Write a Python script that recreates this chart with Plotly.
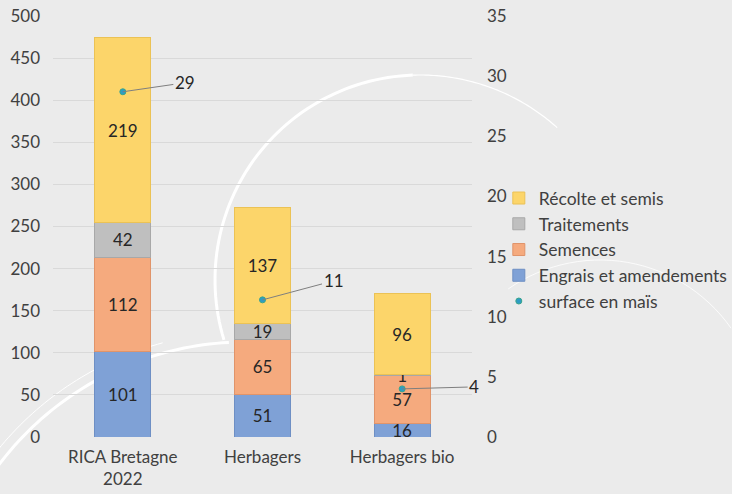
import math
import plotly.graph_objects as go

# Données
categories = ["RICA Bretagne<br>2022", "Herbagers", "Herbagers bio"]
engrais = [101, 51, 16]
semences = [112, 65, 57]
traitements = [42, 19, 1]
recolte = [219, 137, 96]
surface_mais = [28.7, 11.4, 4.0]

FONT = "Lato"
TXT = "#404040"

# zone de tracé en pixels (pour les décors)
L, R, T, B = 53, 472, 16, 437


def to_paper(px, py):
    return (px - L) / (R - L), (B - py) / (B - T)


def arc_path(cx, cy, r, a0, a1, n=60):
    pts = []
    for i in range(n + 1):
        a = math.radians(a0 + (a1 - a0) * i / n)
        pts.append(to_paper(cx + r * math.cos(a), cy - r * math.sin(a)))
    return "M" + " L".join(f"{x:.4f},{y:.4f}" for x, y in pts)


fig = go.Figure()

series = [
    ("Engrais et amendements", engrais, "#7FA1D6", "#6E8FC4", 4),
    ("Semences", semences, "#F5AA7E", "#E0946A", 3),
    ("Traitements", traitements, "#BFBFBF", "#A8A8A8", 2),
    ("Récolte et semis", recolte, "#FCD56A", "#EBC255", 1),
]
for name, vals, col, edge, rank in series:
    fig.add_trace(go.Bar(
        x=categories, y=vals, name=name,
        marker=dict(color=col, line=dict(color=edge, width=1)),
        text=[str(v) for v in vals], textposition="inside", textangle=0,
        insidetextanchor="middle", constraintext="none",
        textfont=dict(family=FONT, size=17, color="#262626"),
        legendrank=rank, hoverinfo="skip",
    ))

fig.add_trace(go.Scatter(
    x=categories, y=surface_mais, yaxis="y2", mode="markers",
    name="surface en maïs",
    marker=dict(color="#2E9CC4", size=6, line=dict(color="#3AA58C", width=1)),
    legendrank=5, hoverinfo="skip",
))

# étiquettes de la surface avec traits de rappel
offsets = [(62, -9), (71, -19), (72, -2)]
for cat, v, (ax, ay) in zip(categories, surface_mais, offsets):
    fig.add_annotation(
        x=cat, y=v, xref="x", yref="y2", text=f"{v:.0f}",
        showarrow=True, arrowhead=0, arrowwidth=1, arrowcolor="#7F7F7F",
        ax=ax, ay=ay, standoff=0,
        font=dict(family=FONT, size=17, color="#262626"),
    )

# arcs décoratifs blancs
shapes = [
    (arc_path(420, 280, 205, 197, 92), 3),
    (arc_path(420, 280, 205, 92, 48), 1.2),
    (arc_path(245, 650, 308, 93, 165), 3),
    (arc_path(245, 650, 318, 105, 165), 1),
    (arc_path(600, 420, 160, 125, 35, 30), 0.8),
]
for path, w in shapes:
    fig.add_shape(type="path", path=path, xref="paper", yref="paper",
                  line=dict(color="white", width=w), layer="below")

fig.update_layout(
    width=732, height=494, autosize=False,
    margin=dict(l=L, r=732 - R, t=T, b=494 - B, autoexpand=False),
    paper_bgcolor="#EBEBEB", plot_bgcolor="rgba(0,0,0,0)",
    barmode="stack", bargap=0.6,
    font=dict(family=FONT, size=17, color=TXT),
    xaxis=dict(range=[-0.5, 2.5], showgrid=False, showline=False, ticks="",
               ticklabelstandoff=8,
               tickfont=dict(family=FONT, size=17, color=TXT)),
    yaxis=dict(range=[0, 500], dtick=50, showgrid=True, gridcolor="#D9D9D9",
               gridwidth=1, zeroline=False, showline=False,
               ticklabelstandoff=12,
               tickfont=dict(family=FONT, size=17, color=TXT)),
    yaxis2=dict(range=[0, 35], dtick=5, overlaying="y", side="right",
                showgrid=False, zeroline=False, showline=False,
                ticklabelstandoff=14,
                tickfont=dict(family=FONT, size=17, color=TXT)),
    legend=dict(x=1.064, y=0.445, xanchor="left", yanchor="middle",
                traceorder="normal", itemwidth=30,
                bgcolor="rgba(0,0,0,0)",
                font=dict(family=FONT, size=17.5, color=TXT)),
    showlegend=True,
)

fig.write_html(
    "out.html",
    config={"responsive": False, "displayModeBar": False},
    post_script="document.body.style.margin='0';"
                "document.body.style.overflow='hidden';"
                "Plotly.relayout('{plot_id}', {width: 732, height: 494});",
)
